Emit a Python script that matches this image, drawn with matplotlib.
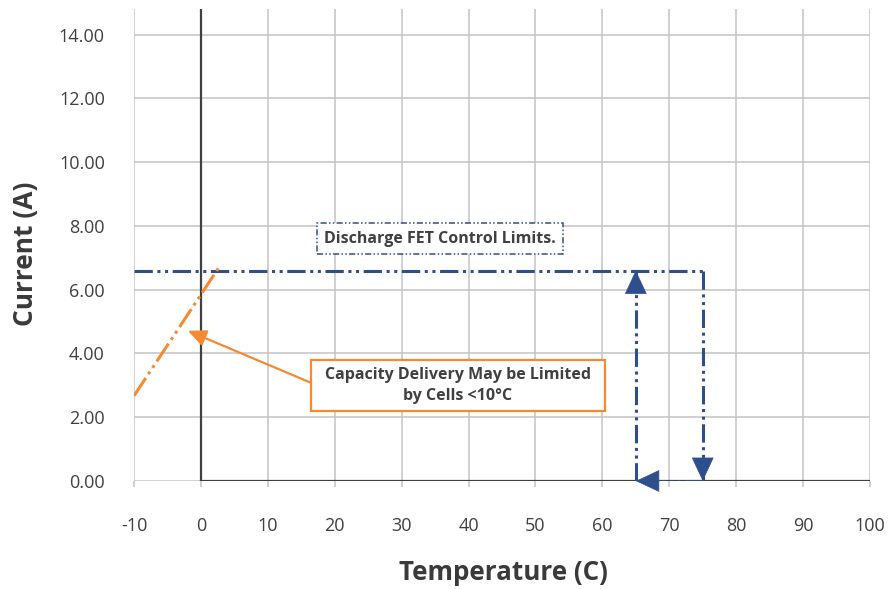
import matplotlib
matplotlib.use("Agg")
import matplotlib.pyplot as plt
from matplotlib.patches import Rectangle

plt.rcParams['font.family'] = ['Open Sans', 'DejaVu Sans']
plt.rcParams['axes.unicode_minus'] = False

# ---- data ----
x_ticks = [-10, 0, 10, 20, 30, 40, 50, 60, 70, 80, 90, 100]
y_ticks = [0, 2, 4, 6, 8, 10, 12, 14]
x_min, x_max = -10, 100
y_min, y_max = 0, 14.8

limit_x = [-10, 75]          # discharge FET limit line (temperature)
limit_y = [6.6, 6.6]         # current limit (A)
temp_low = 65
temp_high = 75

cold_x = [-10, 2.7]          # capacity limited line
cold_y = [2.67, 6.7]

fet_label = "Discharge FET Control Limits."
fet_label_pos = (35.7, 7.6)
cap_label = "Capacity Delivery May be Limited\nby Cells <10°C"
cap_label_pos = (38.4, 3.0)
cap_box = (16.44, 2.2, 60.4, 3.8)   # x0, y0, x1, y1
cap_arrow_start = (16.44, 3.08)
cap_arrow_tip = (-1.94, 4.71)

blue = '#2F4F8C'
orange = '#F58A32'
grid_c = '#C4C4C4'
axis_c = '#404040'
text_c = '#404040'

dash = (0, (6, 1.5, 1, 1.5, 1, 1.5))

fig = plt.figure(figsize=(8.88, 5.89), dpi=100)
ax = fig.add_axes([134/888, 108/589, 736/888, 472/589])
ax.set_xlim(x_min, x_max)
ax.set_ylim(y_min, y_max)
for s in ax.spines.values():
    s.set_visible(False)

ax.set_xticks(x_ticks)
ax.set_yticks(y_ticks)
ax.set_yticklabels([f"{v:.2f}" for v in y_ticks])
ax.grid(True, color=grid_c, linewidth=1.1, zorder=0)
ax.set_axisbelow(True)
ax.tick_params(axis='x', length=4, width=1.1, color=grid_c, pad=22,
               labelsize=13, labelcolor=text_c)
ax.tick_params(axis='y', length=0, pad=21, labelsize=13, labelcolor=text_c)

# dark axis lines
ax.axvline(0, color=axis_c, lw=1.6, zorder=1)
ax.axhline(0, xmin=(0 - x_min) / (x_max - x_min), xmax=1, color=axis_c, lw=1.6, zorder=1)

# limit line and arrow path (dashed shafts)
ax.plot(limit_x, limit_y, color=blue, lw=2.2, linestyle=dash, zorder=3)
ax.plot([temp_high, temp_high], [limit_y[1], 0], color=blue, lw=2.2, linestyle=dash, zorder=3)
ax.plot([temp_high, temp_low], [0, 0], color=blue, lw=2.2, linestyle=dash, zorder=3)
ax.plot([temp_low, temp_low], [0, limit_y[1]], color=blue, lw=2.2, linestyle=dash, zorder=3)

# solid arrowheads
head_kw = dict(arrowstyle='-|>,head_length=1.6,head_width=0.75', color=blue, lw=0.5,
               shrinkA=0, shrinkB=0)
ax.annotate('', xy=(temp_high, 0), xytext=(0, 17), textcoords='offset points',
            arrowprops=head_kw, zorder=4)
ax.annotate('', xy=(temp_low, 0), xytext=(17, 0), textcoords='offset points',
            arrowprops=head_kw, zorder=4)
ax.annotate('', xy=(temp_low, limit_y[1]), xytext=(0, -17), textcoords='offset points',
            arrowprops=head_kw, zorder=4)

# cold line
ax.plot(cold_x, cold_y, color=orange, lw=2.2, linestyle=(0, (7, 1.5, 1, 1.5, 1, 1.5)), zorder=3)

# FET label
ax.text(*fet_label_pos, fet_label, ha='center', va='center', fontsize=11.5,
        fontweight='bold', color=text_c, zorder=5,
        bbox=dict(boxstyle='square,pad=0.45', facecolor='white', edgecolor=blue,
                  linewidth=1.1, linestyle=(0, (4, 1.5, 1, 1.5, 1, 1.5))))

# capacity box
x0, y0, x1, y1 = cap_box
ax.add_patch(Rectangle((x0, y0), x1 - x0, y1 - y0, facecolor='white',
                       edgecolor=orange, lw=1.6, zorder=4))
ax.text(*cap_label_pos, cap_label, ha='center', va='center', fontsize=11.5,
        fontweight='bold', color=text_c, zorder=5, linespacing=1.45)
ax.annotate('', xy=cap_arrow_tip, xytext=cap_arrow_start,
            arrowprops=dict(arrowstyle='-|>,head_length=1.1,head_width=0.5', color=orange,
                            lw=1.6, shrinkA=0, shrinkB=0), zorder=4)

fig.text(25/888, 1 - 254/589, 'Current (A)', rotation=90, ha='center', va='center',
         fontsize=19, fontweight='bold', color='#3A3A3A')
fig.text(503/888, 1 - 573/589, 'Temperature (C)', ha='center', va='center',
         fontsize=18.7, fontweight='bold', color='#3A3A3A')

fig.savefig('out.png', dpi=100)
